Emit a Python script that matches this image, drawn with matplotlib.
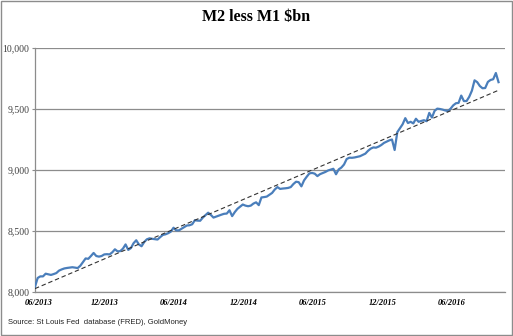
import numpy as np
import pandas as pd
import matplotlib
matplotlib.use("Agg")
import matplotlib.pyplot as plt
import matplotlib.dates as mdates
from matplotlib.transforms import ScaledTranslation
from matplotlib.patches import Rectangle

# ---- data (weekly, $bn) ----
start_date = "2013-06-03"
values = [
    8043, 8115, 8128, 8128, 8150, 8145, 8140, 8147, 8155, 8175,
    8185, 8193, 8197, 8200, 8203, 8200, 8196, 8215, 8245, 8275,
    8272, 8295, 8320, 8295, 8290, 8295, 8308, 8310, 8308, 8325,
    8350, 8333, 8335, 8355, 8390, 8345, 8360, 8400, 8424, 8390,
    8375, 8410, 8432, 8440, 8436, 8433, 8430, 8450, 8468, 8473,
    8482, 8495, 8527, 8505, 8505, 8518, 8532, 8545, 8547, 8555,
    8588, 8585, 8584, 8610, 8630, 8650, 8632, 8610, 8618, 8626,
    8634, 8641, 8643, 8670, 8622, 8655, 8682, 8700, 8717, 8708,
    8703, 8708, 8725, 8735, 8712, 8775, 8778, 8782, 8797, 8812,
    8840, 8860, 8845, 8848, 8850, 8853, 8860, 8885, 8904, 8900,
    8866, 8915, 8945, 8972, 8976, 8970, 8950, 8966, 8975, 8984,
    8996, 9003, 9010, 8965, 9005, 9020, 9045, 9090, 9101, 9100,
    9103, 9108, 9113, 9123, 9134, 9157, 9175, 9185, 9183, 9192,
    9205, 9222, 9232, 9243, 9250, 9164, 9310, 9342, 9375, 9425,
    9385, 9395, 9382, 9420, 9395, 9402, 9408, 9400, 9468, 9430,
    9485, 9503, 9500, 9495, 9488, 9483, 9503, 9530, 9547, 9550,
    9610, 9565, 9565, 9600, 9650, 9735, 9720, 9688, 9670, 9672,
    9722, 9738, 9744, 9795, 9720,
]
y_ticks = [8000, 8500, 9000, 9500, 10000]
x_tick_dates = ["2013-06-03", "2013-12-03", "2014-06-03", "2014-12-03",
                "2015-06-03", "2015-12-03", "2016-06-03"]
x_tick_labels = ["06/2013", "12/2013", "06/2014", "12/2014",
                 "06/2015", "12/2015", "06/2016"]
title = "M2 less M1 $bn"
source = "Source: St Louis Fed  database (FRED), GoldMoney"

dates = pd.date_range(start_date, periods=len(values), freq="7D")
vals = np.array(values, dtype=float)

# linear trend (least squares, like the spreadsheet trendline)
xnum = mdates.date2num(dates)
coef = np.polyfit(xnum, vals, 1)
trend = np.polyval(coef, xnum)

fig = plt.figure(figsize=(5.13, 3.36), dpi=100)
fig.patch.set_facecolor("white")
fig.patches.append(Rectangle((0.001, 0.0015), 0.997, 0.996, transform=fig.transFigure,
                             fill=False, edgecolor="#8c8c8c", linewidth=1.0))

ax = fig.add_axes([35/513, 1-292/336, 470/513, 244/336])
ax.plot(dates, vals, color="#4a7ebb", linewidth=1.6, solid_joinstyle="round", zorder=3)
ax.plot(dates, trend, color="#333333", linewidth=0.8, linestyle=(0, (4, 2.5)), zorder=4)

ax.set_ylim(8000, 10000)
ax.set_xlim(dates[0], pd.Timestamp("2016-10-20"))
ax.set_yticks(y_ticks)
ax.set_yticklabels([f"{v:,}" for v in y_ticks], fontfamily="Liberation Serif",
                   fontsize=7, color="#404040")
ax.set_xticks(pd.to_datetime(x_tick_dates))
ax.set_xticklabels(x_tick_labels, fontfamily="Liberation Serif", fontweight="bold",
                   fontstyle="italic", fontsize=6, color="black")
ax.tick_params(axis="y", length=2, width=0.8, color="#8c8c8c", pad=2)
ax.tick_params(axis="x", length=0, pad=5)
# nudge first x label to the right as in the reference
lbl0 = ax.get_xticklabels()[0]
lbl0.set_transform(lbl0.get_transform() + ScaledTranslation(4/100, 0, fig.dpi_scale_trans))

ax.grid(axis="y", color="#8c8c8c", linewidth=0.9)
ax.set_axisbelow(True)
for s in ["top", "right"]:
    ax.spines[s].set_visible(False)
ax.spines["left"].set_color("#8c8c8c")
ax.spines["bottom"].set_color("#8c8c8c")
ax.spines["left"].set_linewidth(0.9)
ax.spines["bottom"].set_linewidth(0.9)

fig.text(256/513, 1-17/336, title, ha="center", va="center",
         fontfamily="Liberation Serif", fontweight="bold", fontsize=11.5, color="black")
fig.text(8/513, 1-322/336, source, ha="left", va="center",
         fontfamily="Liberation Sans", fontsize=5.5, color="#222222")

fig.savefig("out.png", dpi=100)
